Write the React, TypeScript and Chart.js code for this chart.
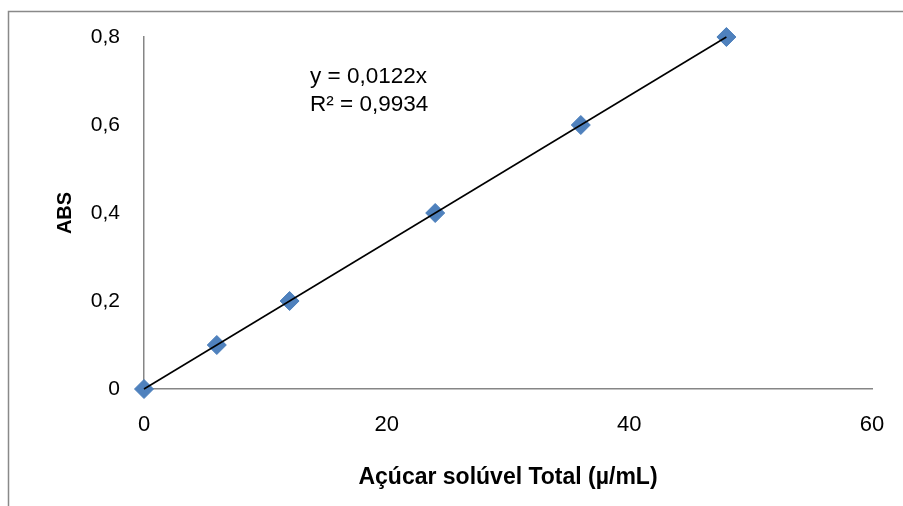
import React, { useEffect, useRef } from "react";
import { Chart, registerables } from "chart.js";

Chart.register(...registerables);

const concentration = [0, 6, 12, 24, 36, 48];
const absorbance = [0, 0.1, 0.2, 0.4, 0.6, 0.8];
const trendX = [0, 48];
const trendY = [0, 0.8];
const equationLines = ["y = 0,0122x", "R² = 0,9934"];
const xTitle = "Açúcar solúvel Total (µ/mL)";
const yTitle = "ABS";

const FONT = "'Liberation Sans', Arial, sans-serif";
const fmt = (v: number) => String(Math.round(v * 10) / 10).replace(".", ",");

export default function App() {
  const ref = useRef<HTMLCanvasElement | null>(null);

  useEffect(() => {
    if (!ref.current) return;
    const frame = {
      id: "frame",
      beforeDraw(chart: any) {
        const ctx = chart.ctx;
        ctx.save();
        ctx.strokeStyle = "#898989";
        ctx.lineWidth = 1.5;
        ctx.beginPath();
        ctx.moveTo(8.5, 520);
        ctx.lineTo(8.5, 11.5);
        ctx.lineTo(920, 11.5);
        ctx.stroke();
        ctx.restore();
      },
    };
    const equation = {
      id: "equation",
      afterDraw(chart: any) {
        const ctx = chart.ctx;
        const a = chart.chartArea;
        ctx.save();
        ctx.fillStyle = "#000";
        ctx.font = "22.5px " + FONT;
        ctx.textBaseline = "middle";
        ctx.textAlign = "left";
        equationLines.forEach((t, i) => {
          ctx.fillText(t, a.left + 166, a.top + 40 + i * 28);
        });
        ctx.restore();
      },
    };
    const chart = new Chart(ref.current, {
      type: "scatter",
      data: {
        datasets: [
          {
            type: "line",
            data: trendX.map((x, i) => ({ x, y: trendY[i] })),
            borderColor: "#000",
            borderWidth: 1.6,
            pointRadius: 0,
            fill: false,
            clip: false,
            order: 0,
          } as any,
          {
            data: concentration.map((x, i) => ({ x, y: absorbance[i] })),
            pointStyle: "rectRot",
            pointRadius: 9.5,
            backgroundColor: "#4F81BD",
            borderColor: "#4A7EBB",
            borderWidth: 1,
            clip: false,
            order: 1,
          },
        ],
      },
      options: {
        animation: false,
        responsive: false,
        layout: { padding: { left: 0, top: 37, right: 31, bottom: 0 } },
        plugins: { legend: { display: false }, tooltip: { enabled: false } },
        scales: {
          x: {
            type: "linear",
            min: 0,
            max: 60,
            ticks: {
              stepSize: 20,
              padding: 23,
              color: "#000",
              font: { size: 22, family: FONT },
              callback: (v: any) => fmt(Number(v)),
            },
            grid: { drawOnChartArea: false, drawTicks: false },
            border: { display: true, color: "#868686", width: 1.5 },
            title: {
              display: true,
              text: xTitle,
              color: "#000",
              font: { size: 23, weight: "bold", family: FONT },
              padding: { top: 0, bottom: 15 },
            },
            afterFit: (s: any) => {
              s.height = 117;
              s.paddingLeft = 0;
              s.paddingRight = 0;
            },
          },
          y: {
            type: "linear",
            min: 0,
            max: 0.8,
            ticks: {
              stepSize: 0.2,
              padding: 24,
              color: "#000",
              font: { size: 21, family: FONT },
              callback: (v: any) => fmt(Number(v)),
            },
            grid: { drawOnChartArea: false, drawTicks: false },
            border: { display: true, color: "#868686", width: 1.5 },
            title: {
              display: true,
              text: yTitle,
              color: "#000",
              font: { size: 20, weight: "bold", family: FONT },
              padding: { top: 53, bottom: 0 },
            },
            afterFit: (s: any) => {
              s.width = 144;
              s.paddingTop = 0;
              s.paddingBottom = 0;
            },
          },
        },
      },
      plugins: [frame, equation],
    } as any);
    return () => chart.destroy();
  }, []);

  return (
    <div style={{ position: "fixed", left: 0, top: 0, width: 903, height: 506, background: "#fff" }}>
      <canvas ref={ref} width={903} height={506} style={{ display: "block", width: 903, height: 506 }} />
    </div>
  );
}
